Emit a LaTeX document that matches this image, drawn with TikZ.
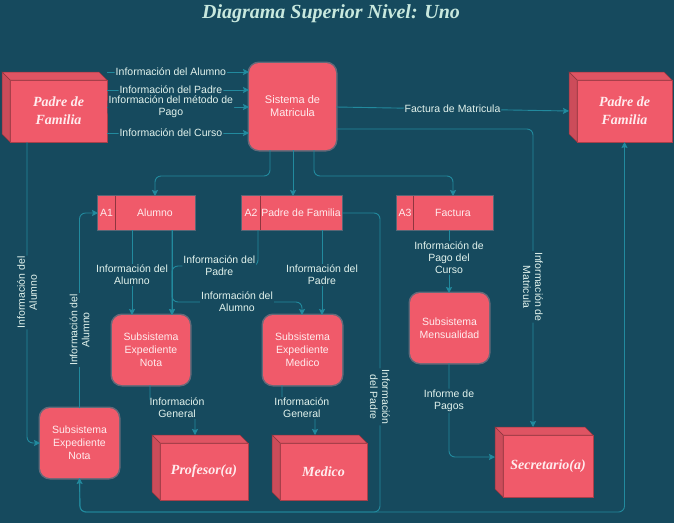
\documentclass[tikz,border=0pt]{standalone}
\usepackage{fontspec}
\setmainfont{Liberation Serif}
\setsansfont{Liberation Sans}
\usetikzlibrary{arrows.meta}

\definecolor{bgc}{RGB}{22,74,94}
\definecolor{linec}{RGB}{34,138,158}
\definecolor{pinkc}{RGB}{240,90,106}
\definecolor{boxtxt}{RGB}{255,236,238}
\definecolor{lblc}{RGB}{226,243,237}
\definecolor{titlec}{RGB}{200,232,222}

% darker side faces of the 3D entity boxes
\newcommand\cubefaces[1]{%
  \filldraw[topface] (#1.north west) -- ++(-8,-8) -- ([shift={(-8,-8)}]#1.north east) -- (#1.north east) -- cycle;
  \filldraw[leftface] (#1.north west) -- ++(-8,-8) -- ([shift={(-8,-8)}]#1.south west) -- (#1.south west) -- cycle;
  \draw[faceedge] (#1.north west) rectangle (#1.south east);}

\begin{document}
\begin{tikzpicture}[x=1pt,y=-1pt,
  flow/.style={draw=linec, line width=0.9pt, rounded corners=6pt, -{Stealth[length=6pt,width=6pt,inset=1pt]}},
  lbl/.style={font=\sffamily\fontsize{10.5}{12}\selectfont, text=lblc, fill=bgc, inner sep=1pt, align=center},
  uplbl/.style={lbl, rotate=90},
  downlbl/.style={lbl, rotate=-90},
  proc/.style={fill=pinkc, rounded corners=10pt, inner sep=2pt, outer sep=0pt, align=center,
    text=boxtxt, font=\sffamily\fontsize{10.5}{13}\selectfont,
    preaction={draw=pinkc!55!white, line width=3pt, opacity=0.35}},
  store/.style={fill=pinkc, inner sep=0pt, outer sep=0pt,
    preaction={draw=pinkc!55!white, line width=2pt, opacity=0.3}},
  storetxt/.style={text=boxtxt, font=\sffamily\fontsize{10.5}{12}\selectfont, inner sep=0pt},
  entity/.style={fill=pinkc, inner sep=2pt, outer sep=0pt, align=center, text=boxtxt,
    font=\rmfamily\bfseries\itshape\fontsize{14}{18}\selectfont},
  topface/.style={fill=pinkc!93!black, draw=pinkc!60!black, line width=0.5pt},
  leftface/.style={fill=pinkc!85!black, draw=pinkc!60!black, line width=0.5pt},
  faceedge/.style={draw=pinkc!70!black, line width=0.5pt},
  title/.style={text=titlec, font=\rmfamily\bfseries\itshape\fontsize{20}{23}\selectfont}
]
\fill[bgc] (0,0) rectangle (674,523);
\useasboundingbox (0,0) rectangle (674,523);

% title
\node[title] (title) at (331,14) {Diagrama Superior Nivel: Uno};

% external entities
\node[entity, minimum width=97pt, minimum height=62pt] (padreL) at (58.5,111) {Padre de\\Familia};
\cubefaces{padreL}
\node[entity, minimum width=95pt, minimum height=62pt] (padreR) at (624.5,111) {Padre de\\Familia};
\cubefaces{padreR}
\node[entity, minimum width=88pt, minimum height=57pt] (profesor) at (204,471.5) {Profesor(a)};
\cubefaces{profesor}
\node[entity, minimum width=87pt, minimum height=57pt] (medicoE) at (323.5,471.5) {Medico};
\cubefaces{medicoE}
\node[entity, minimum width=90pt, minimum height=62pt] (secretario) at (548,466) {Secretario(a)};
\cubefaces{secretario}

% processes
\node[proc, minimum width=87pt, minimum height=87pt, font=\sffamily\fontsize{11}{13}\selectfont] (sistema) at (292.5,106.5) {Sistema de\\Matricula};
\node[proc, minimum width=78pt, minimum height=70pt] (nota) at (151,350) {Subsistema\\Expediente\\Nota};
\node[proc, minimum width=79pt, minimum height=70pt] (medicoS) at (302.5,350) {Subsistema\\Expediente\\Medico};
\node[proc, minimum width=79pt, minimum height=70pt] (mensual) at (449.5,328) {Subsistema\\Mensualidad};
\node[proc, minimum width=79pt, minimum height=70pt] (notaL) at (79.5,443) {Subsistema\\Expediente\\Nota};

% data stores
\node[store, minimum width=97pt, minimum height=34pt] (a1) at (146.5,213) {};
\draw[pinkc!60!black, line width=0.6pt] ([xshift=17pt]a1.north west) -- ([xshift=17pt]a1.south west);
\node[storetxt] (a1id) at (106.5,213) {A1};
\node[storetxt] (a1name) at (155,213) {Alumno};
\node[store, minimum width=100pt, minimum height=34pt] (a2) at (292,213) {};
\draw[pinkc!60!black, line width=0.6pt] ([xshift=18pt]a2.north west) -- ([xshift=18pt]a2.south west);
\node[storetxt] (a2id) at (251,213) {A2};
\node[storetxt] (a2name) at (301,213) {Padre de Familia};
\node[store, minimum width=96pt, minimum height=34pt] (a3) at (445,213) {};
\draw[pinkc!60!black, line width=0.6pt] ([xshift=16pt]a3.north west) -- ([xshift=16pt]a3.south west);
\node[storetxt] (a3id) at (405,213) {A3};
\node[storetxt] (a3name) at (453,213) {Factura};

% Padre de Familia -> Sistema de Matricula
\draw[flow] (padreL.east |- 0,72) -- node[lbl, pos=0.45] {Información del Alumno} (sistema.west |- 0,72);
\draw[flow] (padreL.east |- 0,90) -- node[lbl, pos=0.45] {Información del Padre} (sistema.west |- 0,90);
\draw[flow] (padreL.east |- 0,107) -- node[lbl, pos=0.45] {Información del método de\\Pago} (sistema.west |- 0,107);
\draw[flow] (padreL.east |- 0,133) -- node[lbl, pos=0.45] {Información del Curso} (sistema.west |- 0,133);

% Sistema de Matricula -> Padre de Familia / Secretario(a)
\draw[flow] (sistema.east |- 0,107) -- node[lbl] {Factura de Matricula} ([xshift=-8pt]padreR.west);
\draw[flow] (sistema.east |- 0,129) -| node[downlbl, pos=0.765] {Información de\\Matricula} ([yshift=8pt]secretario.north -| 533,0);

% Sistema de Matricula -> data stores
\draw[flow] (sistema.south -| 270,0) -- (270,176) -- (155,176) -- (a1.north -| 155,0);
\draw[flow] (sistema.south -| 293,0) -- (a2.north -| 293,0);
\draw[flow] (sistema.south -| 314,0) -- (314,176) -- (453,176) -- (a3.north -| 453,0);

% A1 Alumno
\draw[flow] (a1.south -| 132,0) -- node[lbl, pos=0.53] {Información del\\Alumno} (nota.north -| 132,0);
\draw[flow] (a1.south -| 172,0) -- (nota.north -| 172,0);
\draw[flow] (a1.south -| 172,0) -- (172,302) -- node[lbl, pos=0.5] {Información del\\Alumno} (302,302) -- (medicoS.north -| 302,0);

% A2 Padre de Familia
\draw[flow] (a2.south -| 258,0) -- (258,266) -- node[lbl, pos=0.45] {Información del\\Padre} (172,266) -- (nota.north -| 172,0);
\draw[flow] (a2.south -| 322,0) -- node[lbl, pos=0.53] {Información del\\Padre} (medicoS.north -| 322,0);
\draw[flow] (a2.east) -- (380,213) -- node[downlbl, pos=0.615] {Información\\del Padre} (380,512) -- (80,512) -- (notaL.south);

% A3 Factura
\draw[flow] (a3.south -| 449,0) -- node[lbl, pos=0.44] {Información de\\Pago del\\Curso} (mensual.north -| 449,0);

% subsystems -> entities
\draw[flow] (nota.south -| 150,0) -- (150,408) -- node[lbl, pos=0.6] {Información\\General} (195,408) -- ([yshift=8pt]profesor.north -| 195,0);
\draw[flow] (medicoS.south -| 282,0) -- (282,408) -- node[lbl, pos=0.6] {Información\\General} (315,408) -- ([yshift=8pt]medicoE.north -| 315,0);
\draw[flow] (mensual.south -| 449,0) |- node[lbl, pos=0.2] {Informe de\\Pagos} ([xshift=-8pt]secretario.west |- 0,457);

% left-hand loop
\draw[flow] (padreL.south -| 27,0) |- node[uplbl, pos=0.25] {Información del\\Alumno} (notaL.west);
\draw[flow] (notaL.north) |- node[uplbl, pos=0.2] {Información del\\Alumno} (a1.west);
\draw[flow] (notaL.south) -- (80,512) -- (624.5,512) -- (padreR.south);
\end{tikzpicture}
\end{document}
